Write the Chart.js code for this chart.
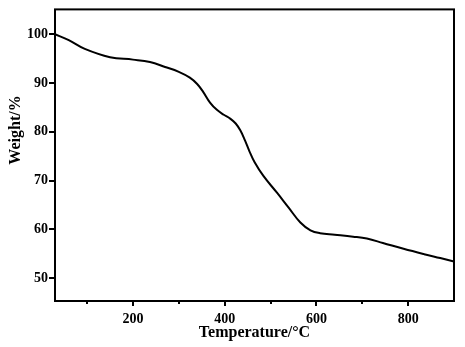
<!DOCTYPE html>
<html>
<head>
<meta charset="utf-8">
<script src="https://cdn.jsdelivr.net/npm/chart.js@4/dist/chart.umd.min.js"></script>
<style>
  html, body { margin: 0; padding: 0; background: #fff; }
  #wrap { width: 465px; height: 347px; }
</style>
</head>
<body>
<div id="wrap"><canvas id="chartTga"></canvas></div>
<script>
// TGA curve
const temps   = [30, 60, 95, 150, 200, 237, 270, 300, 324, 340, 353, 368, 383, 398, 412, 424, 434, 444, 454, 465, 484, 514, 539, 565, 587, 608, 640, 680, 710, 745, 790, 835, 870, 900];
const weights = [100, 98.8, 97.0, 95.3, 94.8, 94.3, 93.3, 92.3, 91.1, 89.8, 88.2, 86.0, 84.5, 83.5, 82.7, 81.7, 80.3, 78.3, 76.0, 73.8, 71.0, 67.5, 64.5, 61.4, 59.8, 59.2, 58.9, 58.5, 58.1, 57.2, 56.0, 54.9, 54.1, 53.4];

const xTicks = [100, 200, 300, 400, 500, 600, 700, 800];
const xLabels = [200, 400, 600, 800];
const yTicks = [50, 60, 70, 80, 90, 100];

const serif = "'Liberation Serif', 'Times New Roman', serif";

// box, tick marks and axis titles
const frame = {
  id: "frame",
  afterDraw(chart) {
    const ctx = chart.ctx;
    const a = chart.chartArea;
    const xs = chart.scales.x;
    const ys = chart.scales.y;
    ctx.save();
    ctx.strokeStyle = "#000";
    ctx.lineWidth = 2;
    ctx.strokeRect(a.left, a.top, a.right - a.left, a.bottom - a.top);

    ctx.beginPath();
    xTicks.forEach((v) => {
      const px = Math.round(xs.getPixelForValue(v));
      const len = xLabels.includes(v) ? 5 : 3;
      ctx.moveTo(px, a.bottom);
      ctx.lineTo(px, a.bottom + len);
    });
    yTicks.forEach((v) => {
      const py = Math.round(ys.getPixelForValue(v));
      ctx.moveTo(a.left, py);
      ctx.lineTo(a.left - 6, py);
    });
    ctx.stroke();

    ctx.fillStyle = "#000";
    ctx.font = "bold 16px " + serif;
    ctx.textAlign = "center";
    ctx.textBaseline = "middle";
    ctx.fillText("Temperature/°C", (a.left + a.right) / 2, 333);
    ctx.translate(16, 130);
    ctx.rotate(-Math.PI / 2);
    ctx.fillText("Weight/%", 0, 0);
    ctx.restore();
  },
};

const data = {
  datasets: [
    {
      label: "TGA",
      data: temps.map((t, i) => ({ x: t, y: weights[i] })),
      borderColor: "#000",
      borderWidth: 2,
      pointRadius: 0,
      tension: 0.4,
      fill: false,
    },
  ],
};

const config = {
  type: "line",
  data,
  options: {
    responsive: false,
    animation: false,
    layout: { padding: { left: 0, top: 7, right: 11, bottom: 0 } },
    plugins: { legend: { display: false }, tooltip: { enabled: false } },
    scales: {
      x: {
        type: "linear",
        min: 30,
        max: 900,
        afterBuildTicks: (s) => { s.ticks = xTicks.map((v) => ({ value: v })); },
        afterFit: (s) => { s.height = 46; },
        grid: { drawOnChartArea: false, color: "rgba(0,0,0,0)", tickLength: 6 },
        border: { display: false },
        ticks: {
          autoSkip: false,
          maxRotation: 0,
          padding: 4,
          color: "#000",
          font: { family: serif, size: 14, weight: "bold" },
          callback: (v) => (xLabels.includes(v) ? String(v) : ""),
        },
      },
      y: {
        min: 45.3,
        max: 105.1,
        afterBuildTicks: (s) => { s.ticks = yTicks.map((v) => ({ value: v })); },
        afterFit: (s) => { s.width = 55; },
        grid: { drawOnChartArea: false, color: "rgba(0,0,0,0)", tickLength: 6 },
        border: { display: false },
        ticks: {
          padding: 1,
          color: "#000",
          font: { family: serif, size: 14, weight: "bold" },
        },
      },
    },
  },
  plugins: [frame],
};

const canvas = document.getElementById("chartTga");
canvas.width = 465;
canvas.height = 347;
const chartTga = new Chart(canvas, config);
</script>
</body>
</html>
